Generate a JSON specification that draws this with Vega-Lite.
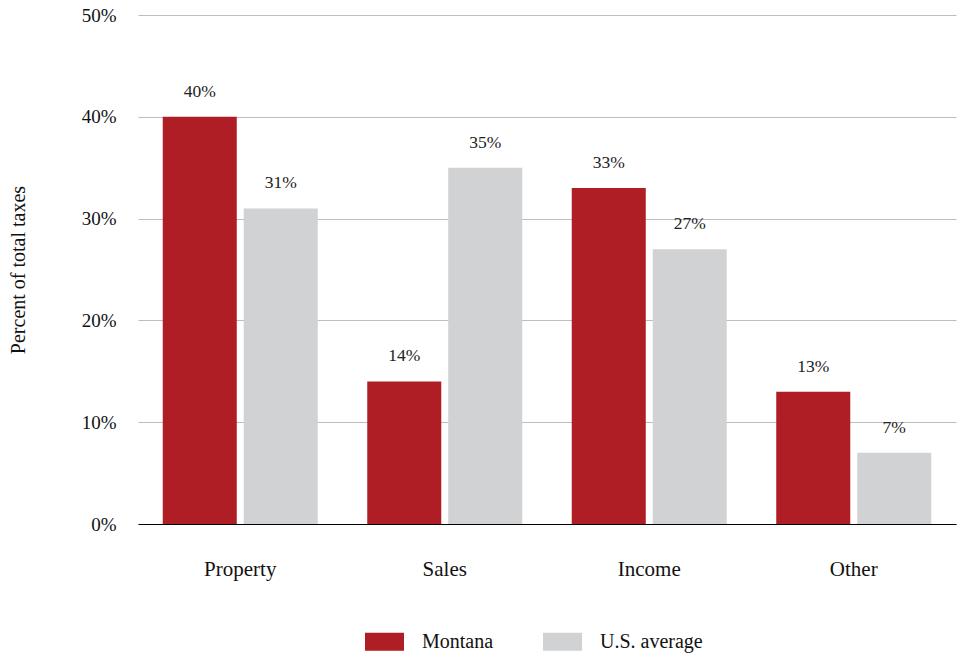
{
  "$schema": "https://vega.github.io/schema/vega-lite/v6.json",
  "width": 818,
  "height": 509,
  "autosize": {"type": "none"},
  "padding": {"left": 138, "top": 15, "right": 7, "bottom": 133},
  "background": "white",
  "config": {
    "font": "Liberation Serif",
    "view": {"stroke": null}
  },
  "data": {
    "values": [
      {"category": "Property", "series": "Montana", "value": 40},
      {"category": "Property", "series": "U.S. average", "value": 31},
      {"category": "Sales", "series": "Montana", "value": 14},
      {"category": "Sales", "series": "U.S. average", "value": 35},
      {"category": "Income", "series": "Montana", "value": 33},
      {"category": "Income", "series": "U.S. average", "value": 27},
      {"category": "Other", "series": "Montana", "value": 13},
      {"category": "Other", "series": "U.S. average", "value": 7}
    ]
  },
  "encoding": {
    "x": {
      "field": "category",
      "type": "nominal",
      "sort": ["Property", "Sales", "Income", "Other"],
      "scale": {"paddingInner": 0.242, "paddingOuter": 0.121},
      "axis": {
        "title": null,
        "labelAngle": 0,
        "labelFontSize": 21,
        "labelColor": "#111",
        "labelPadding": 34,
        "ticks": false,
        "domainColor": "#000",
        "domainWidth": 1.2
      }
    },
    "xOffset": {
      "field": "series",
      "type": "nominal",
      "scale": {"paddingInner": 0.086, "paddingOuter": 0}
    },
    "y": {
      "field": "value",
      "type": "quantitative",
      "scale": {"domain": [0, 50], "nice": false},
      "axis": {
        "title": "Percent of total taxes",
        "titleFontSize": 20,
        "titleFontWeight": "normal",
        "titleColor": "#111",
        "titlePadding": 53,
        "values": [0, 10, 20, 30, 40, 50],
        "labelExpr": "datum.value + '%'",
        "labelFontSize": 19,
        "labelColor": "#111",
        "labelPadding": 22,
        "labelOverlap": false,
        "labelBound": false,
        "ticks": false,
        "domain": false,
        "gridColor": "#bdbdbd",
        "gridWidth": 1
      }
    }
  },
  "layer": [
    {
      "mark": {"type": "bar"},
      "encoding": {
        "color": {
          "field": "series",
          "type": "nominal",
          "scale": {"domain": ["Montana", "U.S. average"], "range": ["#B01E25", "#D1D2D4"]},
          "legend": {
            "title": null,
            "orient": "none",
            "direction": "horizontal",
            "legendX": 227,
            "legendY": 607,
            "padding": 0,
            "symbolType": "M-1,-0.46L1,-0.46L1,0.46L-1,0.46Z",
            "symbolSize": 1521,
            "symbolStrokeWidth": 0,
            "symbolOpacity": 1,
            "labelFontSize": 20,
            "labelColor": "#111",
            "labelOffset": 18,
            "columnPadding": 49
          }
        }
      }
    },
    {
      "transform": [{"calculate": "datum.value + '%'", "as": "label"}],
      "mark": {"type": "text", "baseline": "alphabetic", "dy": -20, "fontSize": 17.5, "color": "#222"},
      "encoding": {
        "text": {"field": "label", "type": "nominal"},
        "detail": {"field": "series"}
      }
    }
  ]
}
